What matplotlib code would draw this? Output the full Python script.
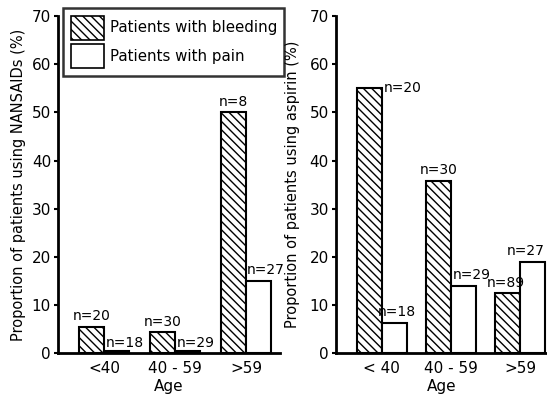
import matplotlib
matplotlib.use("Agg")
import matplotlib.pyplot as plt
import numpy as np
from matplotlib.patches import Patch

# data
age_groups = ["<40", "40 - 59", ">59"]
age_groups_r = ["< 40", "40 - 59", ">59"]
nansaid_bleeding = [5.5, 4.3, 50.0]
nansaid_pain = [0.4, 0.4, 15.0]
nansaid_n_bleeding = ["n=20", "n=30", "n=8"]
nansaid_n_pain = ["n=18", "n=29", "n=27"]
aspirin_bleeding = [55.0, 35.8, 12.5]
aspirin_pain = [6.3, 14.0, 19.0]
aspirin_n_bleeding = ["n=20", "n=30", "n=89"]
aspirin_n_pain = ["n=18", "n=29", "n=27"]

plt.rcParams["font.family"] = "DejaVu Sans"
plt.rcParams["font.size"] = 10
plt.rcParams["hatch.linewidth"] = 1.0

fig = plt.figure(figsize=(5.47, 3.95), dpi=100)
axL = fig.add_axes([0.106, 0.106, 0.406, 0.853])
axR = fig.add_axes([0.614, 0.106, 0.386, 0.853])

HATCH = "\\\\\\\\"


def style(ax):
    for s in ("top", "right"):
        ax.spines[s].set_visible(False)
    for s in ("left", "bottom"):
        ax.spines[s].set_linewidth(2)
    ax.set_ylim(0, 70)
    ax.set_yticks(range(0, 71, 10))
    ax.tick_params(axis="y", direction="out", length=3, width=1.5, labelsize=11, pad=2)
    ax.tick_params(axis="x", length=0, labelsize=11, pad=6)
    ax.set_xlabel("Age", fontsize=11, labelpad=2)


def bars(ax, bleed, pain, w):
    x = np.arange(len(bleed))
    ax.bar(x - w / 2, bleed, w, facecolor="white", edgecolor="black",
           hatch=HATCH, linewidth=1.5)
    ax.bar(x + w / 2, pain, w, facecolor="white", edgecolor="black",
           linewidth=1.5)
    return x


# left panel: NANSAIDs
w = 0.35
x = bars(axL, nansaid_bleeding, nansaid_pain, w)
axL.set_xlim(-0.648, 2.48)
style(axL)
axL.set_xticks(x)
axL.set_xticklabels(age_groups)
axL.set_ylabel("Proportion of patients using NANSAIDs (%)", fontsize=10.5, labelpad=4)
for i in range(3):
    axL.text(x[i] - w / 2, nansaid_bleeding[i] + 0.8, nansaid_n_bleeding[i],
             ha="center", va="bottom", fontsize=10)
for i in range(2):
    axL.text(x[i] + 0.02, 0.6, nansaid_n_pain[i], ha="left", va="bottom", fontsize=10)
axL.text(x[2] + 0.01, nansaid_pain[2] + 0.8, nansaid_n_pain[2],
         ha="left", va="bottom", fontsize=10)

# right panel: aspirin
w = 0.36
x = bars(axR, aspirin_bleeding, aspirin_pain, w)
axR.set_xlim(-0.667, 2.39)
style(axR)
axR.set_xticks(x)
axR.set_xticklabels(age_groups_r)
axR.set_ylabel("Proportion of patients using aspirin (%)", fontsize=10.5, labelpad=7)
axR.text(x[0] + 0.02, aspirin_bleeding[0], aspirin_n_bleeding[0],
         ha="left", va="center", fontsize=10)
axR.text(x[1] - w / 2, aspirin_bleeding[1] + 0.8, aspirin_n_bleeding[1],
         ha="center", va="bottom", fontsize=10)
axR.text(x[2] - w / 2 - 0.03, aspirin_bleeding[2] + 0.6, aspirin_n_bleeding[2],
         ha="center", va="bottom", fontsize=10)
axR.text(x[0] + w / 2 + 0.03, aspirin_pain[0] + 0.8, aspirin_n_pain[0],
         ha="center", va="bottom", fontsize=10)
axR.text(x[1] + 0.03, aspirin_pain[1] + 0.8, aspirin_n_pain[1],
         ha="left", va="bottom", fontsize=10)
axR.text(x[2] + 0.36, aspirin_pain[2] + 0.8, aspirin_n_pain[2],
         ha="right", va="bottom", fontsize=10, clip_on=False)

# legend
handles = [Patch(facecolor="white", edgecolor="black", hatch=HATCH, linewidth=1.2,
                 label="Patients with bleeding"),
           Patch(facecolor="white", edgecolor="black", linewidth=1.2,
                 label="Patients with pain")]
leg = fig.legend(handles=handles, loc="upper left",
                 bbox_to_anchor=(63 / 547, 1 - 8 / 395), fontsize=10.8,
                 frameon=True, fancybox=False, handlelength=2.2, handleheight=2.1,
                 handletextpad=0.4, borderpad=0.5, labelspacing=0.3,
                 borderaxespad=0)
leg.get_frame().set_edgecolor("black")
leg.get_frame().set_linewidth(1.8)

fig.savefig("out.png", dpi=100)
